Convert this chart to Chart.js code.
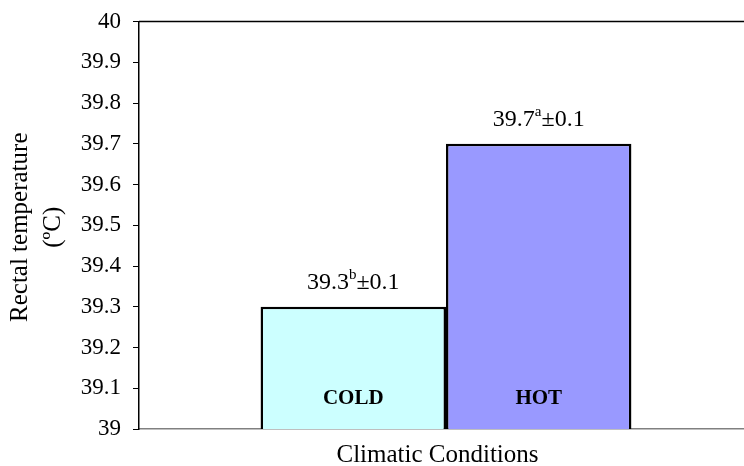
<!DOCTYPE html>
<html>
<head>
<meta charset="utf-8">
<script src="https://cdn.jsdelivr.net/npm/chart.js@4.4.1/dist/chart.umd.min.js"></script>
<style>
  html, body { margin: 0; padding: 0; background: #fff; overflow: hidden; }
  #wrap { width: 754px; height: 466px; }
</style>
</head>
<body>
<div id="wrap"><canvas id="myChart" width="754" height="466"></canvas></div>
<script>
// data
const categories = ['COLD', 'HOT'];
const temps = [39.3, 39.7];
const letters = ['b', 'a'];
const sem = [0.1, 0.1];
const barColors = ['#CCFFFF', '#9999FF'];
const yTicks = [39, 39.1, 39.2, 39.3, 39.4, 39.5, 39.6, 39.7, 39.8, 39.9, 40];

const serif = '"Liberation Serif", "Times New Roman", serif';

// labels over bars, names inside bars, top frame line and axis titles
const extras = {
  id: 'extras',
  afterDatasetsDraw(chart) {
    const ctx = chart.ctx;
    const area = chart.chartArea;
    ctx.save();
    // top line of plot frame
    ctx.strokeStyle = '#000';
    ctx.lineWidth = 1.5;
    ctx.beginPath();
    ctx.moveTo(area.left, area.top);
    ctx.lineTo(area.right, area.top);
    ctx.stroke();

    chart.data.datasets.forEach((ds, i) => {
      const bar = chart.getDatasetMeta(i).data[0];
      const x = bar.x, y = bar.y;
      // value label with superscript letter
      const main = temps[i].toFixed(1);
      const tail = '\u00b1' + sem[i].toFixed(1);
      ctx.fillStyle = '#000';
      ctx.textBaseline = 'alphabetic';
      ctx.font = '24px ' + serif;
      const w1 = ctx.measureText(main).width;
      const w3 = ctx.measureText(tail).width;
      ctx.font = '15px ' + serif;
      const w2 = ctx.measureText(letters[i]).width;
      let sx = x - (w1 + w2 + w3) / 2;
      const by = y - 18;
      ctx.textAlign = 'left';
      ctx.font = '24px ' + serif;
      ctx.fillText(main, sx, by);
      ctx.font = '15px ' + serif;
      ctx.fillText(letters[i], sx + w1, by - 10);
      ctx.font = '24px ' + serif;
      ctx.fillText(tail, sx + w1 + w2, by);
      // name inside bar
      ctx.font = 'bold 21px ' + serif;
      ctx.textAlign = 'center';
      ctx.fillText(categories[i], x, 404);
    });

    // y title, two lines
    ctx.font = '25px ' + serif;
    ctx.textAlign = 'center';
    ctx.textBaseline = 'middle';
    const cy = (area.top + area.bottom) / 2 + 2;
    ctx.translate(20, cy);
    ctx.rotate(-Math.PI / 2);
    ctx.fillText('Rectal temperature', 0, 0);
    ctx.fillText('(\u00baC)', 0, 33);
    ctx.restore();

    // x title
    ctx.save();
    ctx.font = '25px ' + serif;
    ctx.fillStyle = '#000';
    ctx.textAlign = 'center';
    ctx.textBaseline = 'alphabetic';
    ctx.fillText('Climatic Conditions', 437.5, 462);
    ctx.restore();
  }
};

const datasets = categories.map((c, i) => ({
  label: c,
  data: [temps[i]],
  backgroundColor: barColors[i],
  borderColor: '#000',
  borderWidth: 2.5,
  borderSkipped: false,
  barPercentage: 1,
  categoryPercentage: 0.604
}));

new Chart(document.getElementById('myChart'), {
  type: 'bar',
  data: { labels: [''], datasets: datasets },
  options: {
    responsive: false,
    animation: false,
    layout: { padding: { top: 21.5, right: 1, left: 0, bottom: 0 } },
    plugins: {
      legend: { display: false },
      tooltip: { enabled: false }
    },
    scales: {
      x: {
        ticks: { display: false },
        grid: { display: false },
        border: { color: '#808080', width: 1.5 },
        afterFit(scale) { scale.height = 37; }
      },
      y: {
        min: 39,
        max: 40,
        afterBuildTicks(scale) { scale.ticks = yTicks.map(v => ({ value: v })); },
        ticks: {
          color: '#000',
          padding: 12,
          font: { family: serif, size: 23 },
          callback: v => String(Number(v.toFixed(1)))
        },
        grid: { drawOnChartArea: false, drawTicks: true, tickLength: 6, color: '#000' },
        border: { color: '#000', width: 1.5 },
        afterFit(scale) {
          scale.width = 139;
          scale.paddingTop = 0;
          scale.paddingBottom = 0;
        }
      }
    }
  },
  plugins: [extras]
});
</script>
</body>
</html>
